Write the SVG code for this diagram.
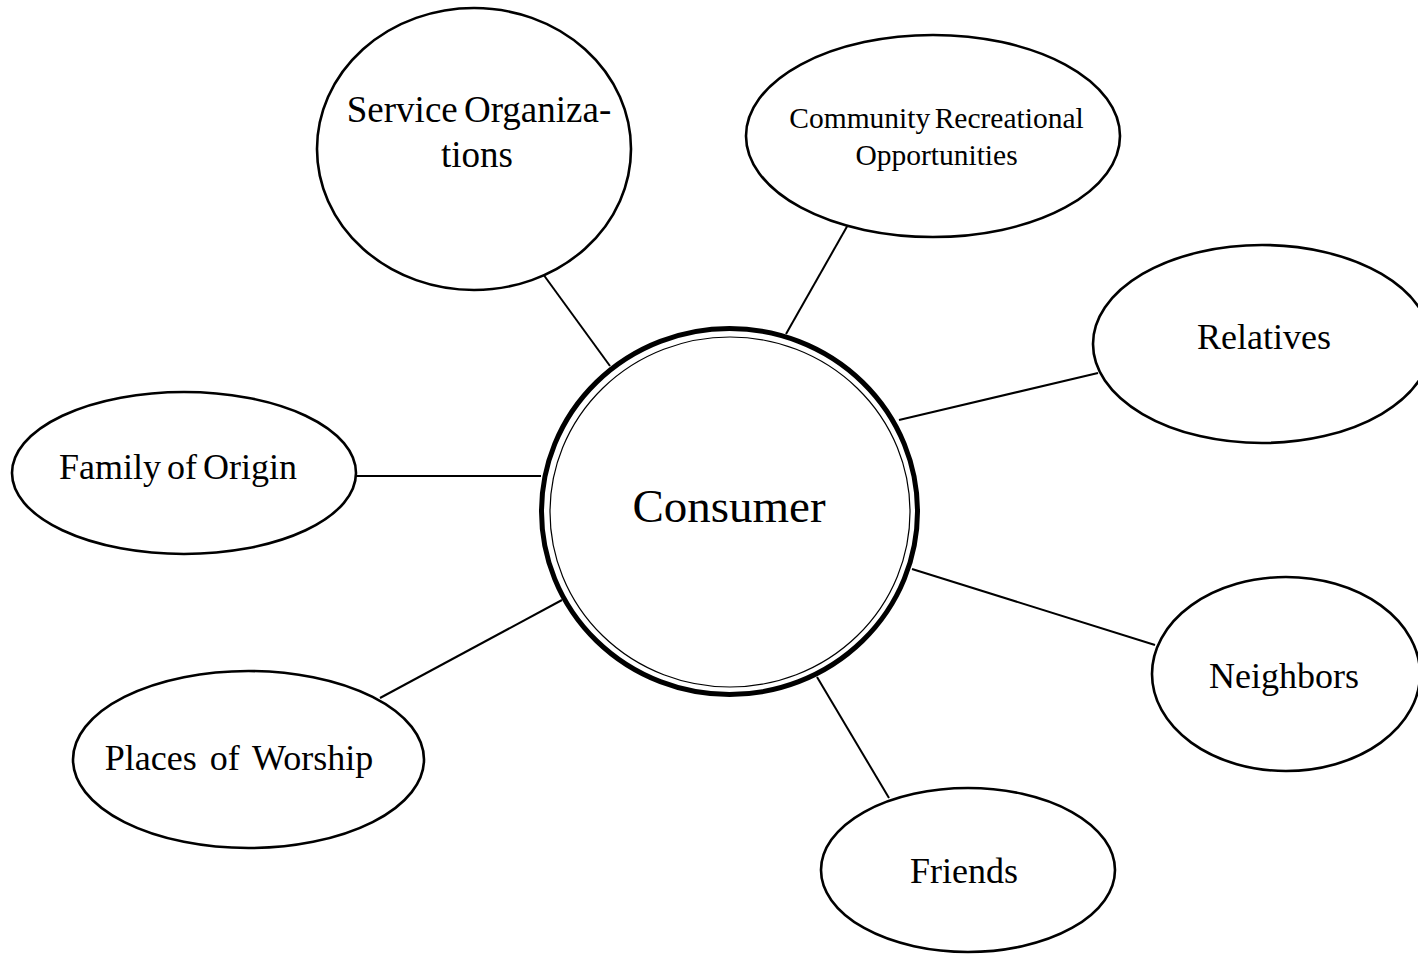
<svg xmlns="http://www.w3.org/2000/svg" width="1418" height="954" viewBox="0 0 1418 954">
<style>
.node{fill:#fff;stroke:#000;stroke-width:2.6}
.lbl{font-family:"Liberation Serif","Times New Roman",serif;font-size:36px;fill:#000;text-anchor:middle}
.edge{stroke:#000;stroke-width:2;fill:none}
</style>
<rect width="1418" height="954" fill="#fff"/>
<g id="connectors">
<line class="edge" x1="543" y1="274" x2="610" y2="366"/>
<line class="edge" x1="849" y1="223" x2="786" y2="334"/>
<line class="edge" x1="1098" y1="373" x2="899" y2="420"/>
<line class="edge" x1="356" y1="476" x2="541" y2="476"/>
<line class="edge" x1="380" y1="698" x2="562" y2="600"/>
<line class="edge" x1="1155" y1="645" x2="912" y2="569"/>
<line class="edge" x1="889" y1="798" x2="817" y2="677"/>
</g>
<g id="consumer">
<ellipse cx="729.5" cy="511.5" rx="188" ry="183" fill="#fff" stroke="#000" stroke-width="5"/>
<ellipse cx="730" cy="512" rx="180" ry="175" fill="none" stroke="#000" stroke-width="1.2"/>
<text class="lbl" x="729" y="522" style="font-size:47px">Consumer</text>
</g>
<g id="service">
<ellipse class="node" cx="474" cy="149" rx="157" ry="141"/>
<text class="lbl" x="479" y="122" style="font-size:37px;word-spacing:-3px">Service Organiza-</text>
<text class="lbl" x="477" y="167" style="font-size:37px">tions</text>
</g>
<g id="community">
<ellipse class="node" cx="933" cy="136" rx="187" ry="101"/>
<text class="lbl" x="936.5" y="128" style="font-size:29.5px;word-spacing:-3px">Community Recreational</text>
<text class="lbl" x="936.5" y="165" style="font-size:29.5px">Opportunities</text>
</g>
<g id="relatives">
<ellipse class="node" cx="1262" cy="344" rx="169" ry="99"/>
<text class="lbl" x="1264" y="349">Relatives</text>
</g>
<g id="family">
<ellipse class="node" cx="184" cy="473" rx="172" ry="81"/>
<text class="lbl" x="178" y="479" style="word-spacing:-3px">Family of Origin</text>
</g>
<g id="worship">
<ellipse class="node" cx="248.5" cy="759.5" rx="175.5" ry="88.5"/>
<text class="lbl" x="239" y="770" style="word-spacing:4px">Places of Worship</text>
</g>
<g id="neighbors">
<ellipse class="node" cx="1286" cy="674" rx="134" ry="97"/>
<text class="lbl" x="1284" y="688">Neighbors</text>
</g>
<g id="friends">
<ellipse class="node" cx="968" cy="870" rx="147" ry="82"/>
<text class="lbl" x="964" y="883">Friends</text>
</g>
</svg>
